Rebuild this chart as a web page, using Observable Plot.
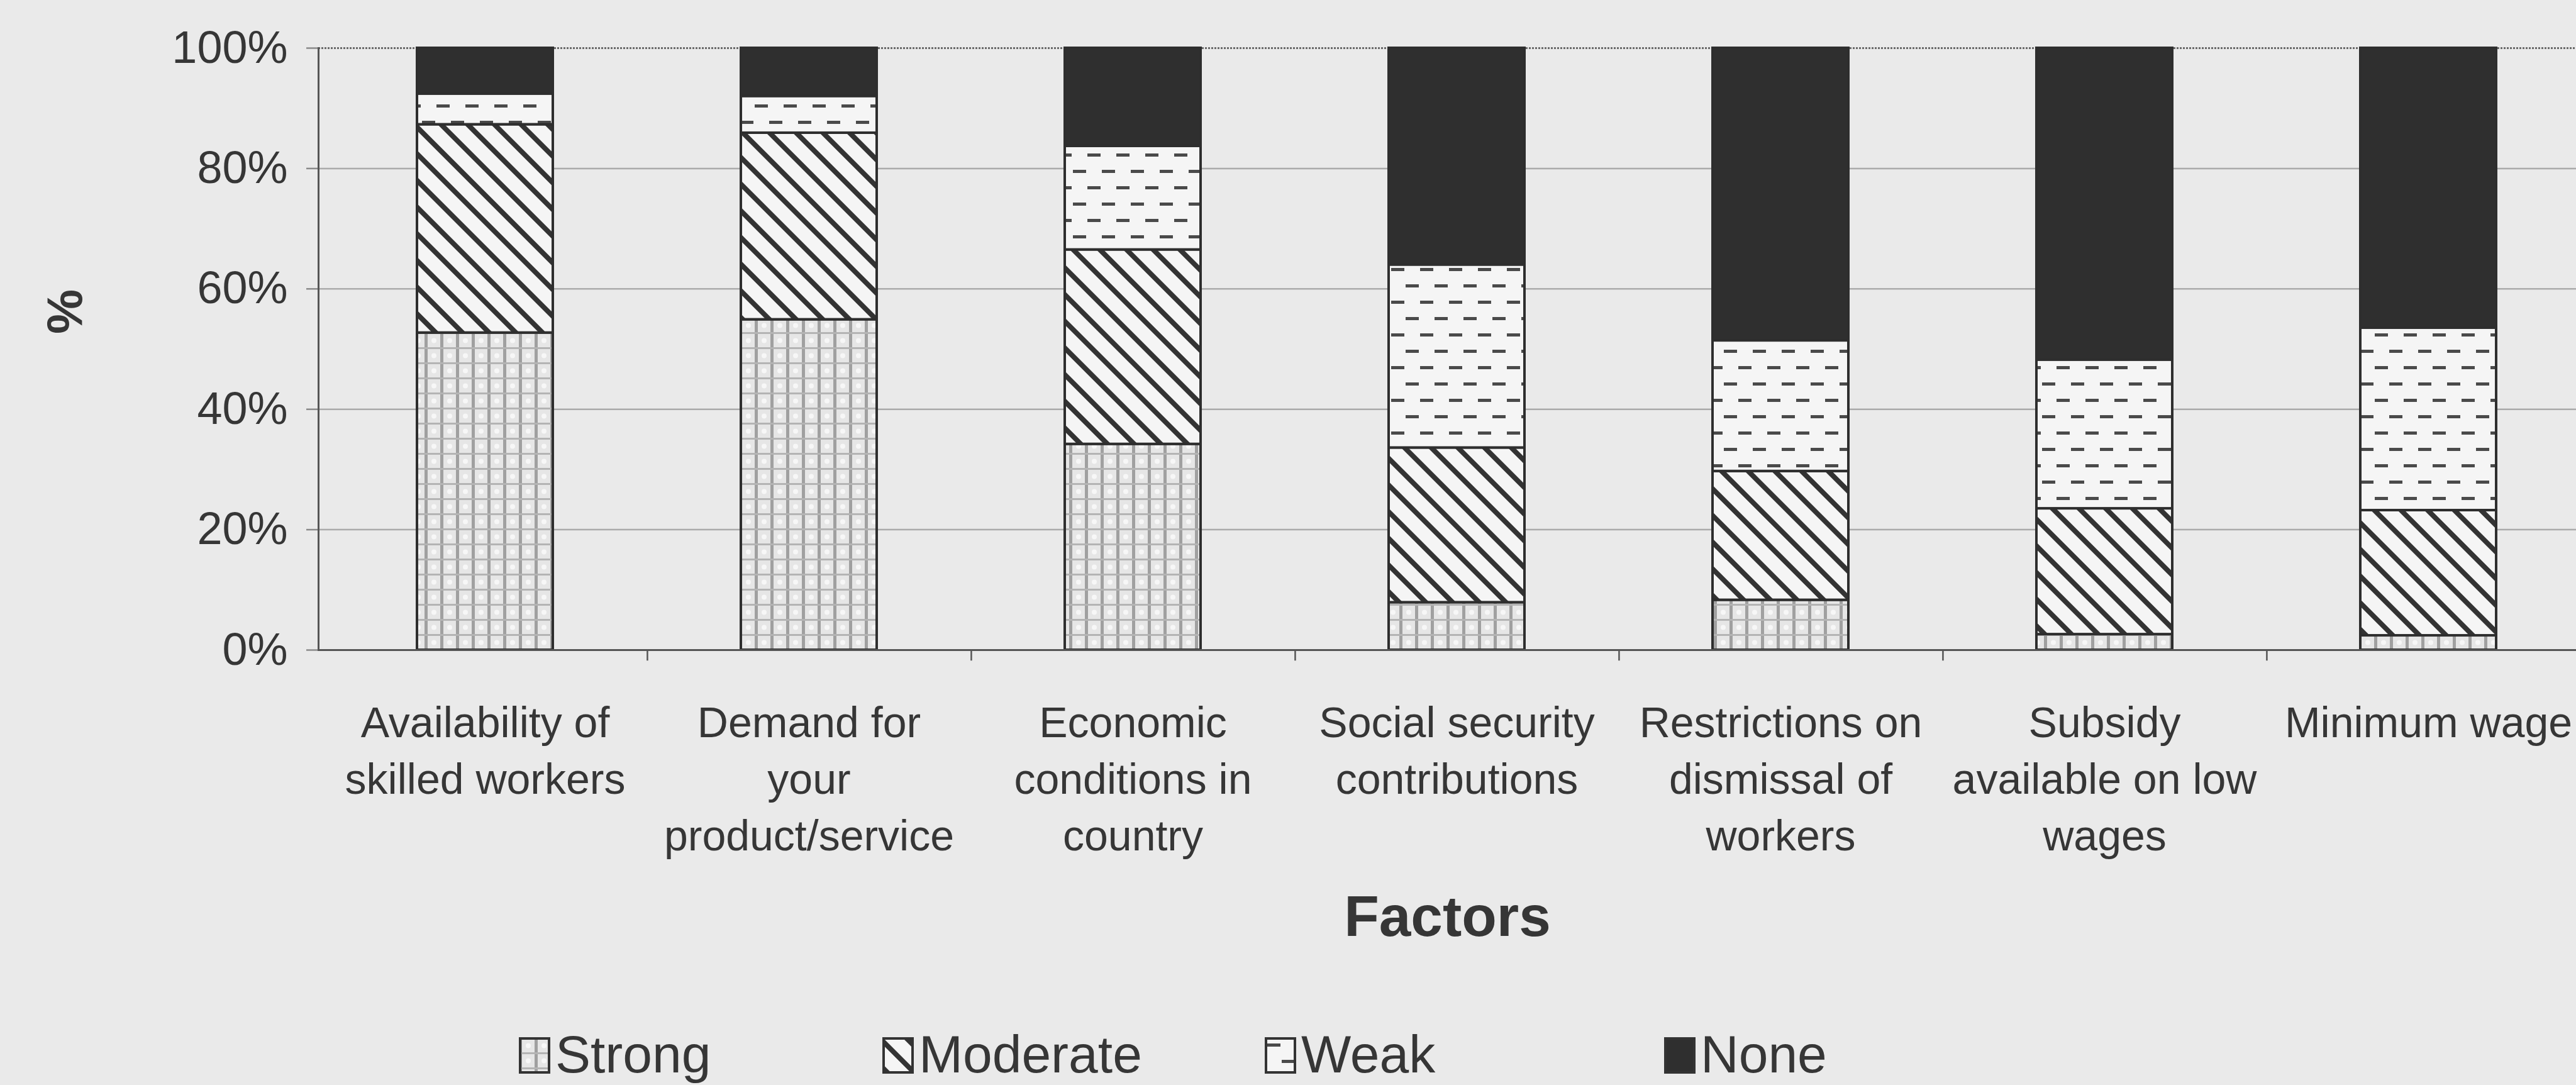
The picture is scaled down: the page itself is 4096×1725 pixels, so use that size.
<!DOCTYPE html>
<html><head><meta charset="utf-8">
<script src="https://cdn.jsdelivr.net/npm/d3@7"></script>
<script src="https://cdn.jsdelivr.net/npm/@observablehq/plot@0.6"></script>
<style>
html,body{margin:0;padding:0;background:#eaeaea;}
#wrap{position:relative;width:4096px;height:1725px;overflow:hidden;font-family:"Liberation Sans",Arial,sans-serif;color:#363636;}
#legend{position:relative;width:4096px;height:165px;}
.lg-sw{position:absolute;display:block;}
.lg-tx{position:absolute;font-size:84px;line-height:84px;white-space:nowrap;}
</style></head><body>
<svg width="0" height="0" style="position:absolute">
<defs>
 <pattern id="pat-strong" patternUnits="userSpaceOnUse" width="25" height="24">
   <rect width="25" height="24" fill="#e6e6e6"/>
   <rect x="0" y="0" width="5" height="24" fill="#a0a0a0"/>
   <rect x="0" y="0" width="25" height="3" fill="#b4b4b4"/>
   <circle cx="15" cy="13.5" r="4" fill="#f7f7f7"/>
 </pattern>
 <pattern id="pat-moderate" patternUnits="userSpaceOnUse" width="30" height="30" patternTransform="rotate(45)">
   <rect width="30" height="30" fill="#f5f5f5"/>
   <rect x="0" y="0" width="30" height="8" fill="#333333"/>
 </pattern>
 <pattern id="pat-weak" patternUnits="userSpaceOnUse" width="46" height="52">
   <rect width="46" height="52" fill="#f5f5f5"/>
   <rect x="4" y="10" width="21" height="5" fill="#4a4a4a"/>
   <rect x="27" y="36" width="19" height="5" fill="#4a4a4a"/>
   <rect x="0" y="36" width="2" height="5" fill="#4a4a4a"/>
 </pattern>
 <pattern id="pat-none" patternUnits="userSpaceOnUse" width="10" height="10">
   <rect width="10" height="10" fill="#2f2f2f"/>
 </pattern>
</defs>
</svg>
<div id="wrap"><div id="chart"></div><div id="legend"></div></div>
<script>
// ---- data ----
const factors = [
  "Availability of skilled workers",
  "Demand for your product/service",
  "Economic conditions in country",
  "Social security contributions",
  "Restrictions on dismissal of workers",
  "Subsidy available on low wages",
  "Minimum wage"
];
const tickLabels = [
  "Availability of\nskilled workers",
  "Demand for\nyour\nproduct/service",
  "Economic\nconditions in\ncountry",
  "Social security\ncontributions",
  "Restrictions on\ndismissal of\nworkers",
  "Subsidy\navailable on low\nwages",
  "Minimum wage"
];
const levels = ["Strong", "Moderate", "Weak", "None"];
const strong   = [52.7, 54.9, 34.2,  7.9,  8.3,  2.6,  2.4];
const moderate = [34.6, 31.0, 32.3, 25.7, 21.4, 20.9, 20.8];
const weak     = [ 5.1,  6.1, 17.2, 30.4, 21.7, 24.7, 30.3];
const none     = [ 7.6,  8.0, 16.3, 36.0, 48.6, 51.8, 46.5];
const yTicks = [0, 20, 40, 60, 80, 100];
const xTitle = "Factors";
const yTitle = "%";

// ---- layout ----
const W = 4096, H = 1560;
const xRange = [511, 4122];
const step = (xRange[1] - xRange[0]) / factors.length;
const yBottom = 1033, yTop = 76;
const legendX = [825, 1403, 2011, 2646];

const seriesValues = [strong, moderate, weak, none];
const rows = factors.flatMap((f, i) => levels.map((lv, j) => ({factor: f, level: lv, value: seriesValues[j][i]})));
const patternOf = lv => `url(#pat-${lv.toLowerCase()})`;

const chart = Plot.plot({
  width: W, height: H,
  marginLeft: 506, marginRight: 0, marginTop: yTop, marginBottom: H - yBottom,
  style: {background: "transparent", fontFamily: "'Liberation Sans', Arial, sans-serif", color: "#363636", overflow: "visible"},
  x: {domain: factors, range: xRange, paddingInner: 0.58, paddingOuter: 0.29, axis: null},
  y: {domain: [0, 100], axis: null},
  color: {domain: levels, range: levels.map(patternOf)},
  marks: [
    Plot.ruleY(yTicks.filter(t => t > 0 && t < 100), {stroke: "#ababab", strokeWidth: 2.5}),
    Plot.ruleY([100], {stroke: "#6a6a6a", strokeWidth: 3, strokeDasharray: "3,2"}),
    Plot.axisY({ticks: yTicks, tickFormat: d => d + "%", tickSize: 19, tickPadding: 30, fontSize: 72, fill: "#363636", stroke: "#8a8a8a", strokeWidth: 2.5, label: null}),
    Plot.axisX({tickFormat: d => tickLabels[factors.indexOf(d)], tickSize: 0, tickPadding: 75, fontSize: 68, lineHeight: 1.32, fill: "#363636", label: null}),
    Plot.ruleX(factors, {dx: step / 2, y1: 0, y2: -1.8, stroke: "#555", strokeWidth: 2.5}),
    Plot.barY(rows, {x: "factor", y: "value", fill: "level", stroke: "#2e2e2e", strokeWidth: 4}),
    Plot.ruleY([0], {stroke: "#555", strokeWidth: 3}),
    Plot.frame({anchor: "left", stroke: "#555", strokeWidth: 3}),
    Plot.text([xTitle], {frameAnchor: "bottom", dy: 425, fontSize: 91, fontWeight: "bold", lineAnchor: "middle", fill: "#363636"}),
    Plot.text([yTitle], {frameAnchor: "left", dx: -402, dy: -24, rotate: -90, fontSize: 80, fontWeight: "bold", fill: "#363636"})
  ]
});
document.getElementById("chart").appendChild(chart);

// ---- legend ----
const legend = document.getElementById("legend");
const baseline = 145, swW = 50, swH = 58;
levels.forEach((lv, i) => {
  const ns = "http://www.w3.org/2000/svg";
  const sw = document.createElementNS(ns, "svg");
  sw.setAttribute("width", swW); sw.setAttribute("height", swH);
  sw.setAttribute("class", "lg-sw");
  sw.style.left = legendX[i] + "px";
  sw.style.top = (baseline - swH + 2) + "px";
  const r = document.createElementNS(ns, "rect");
  r.setAttribute("x", 2); r.setAttribute("y", 2);
  r.setAttribute("width", swW - 4); r.setAttribute("height", swH - 4);
  r.setAttribute("fill", patternOf(lv));
  r.setAttribute("stroke", "#333"); r.setAttribute("stroke-width", 4);
  sw.appendChild(r);
  legend.appendChild(sw);
  const tx = document.createElement("div");
  tx.className = "lg-tx";
  tx.textContent = lv;
  tx.style.left = (legendX[i] + swW + 8) + "px";
  tx.style.top = (baseline - 71) + "px";
  legend.appendChild(tx);
});
</script>
</body></html>
